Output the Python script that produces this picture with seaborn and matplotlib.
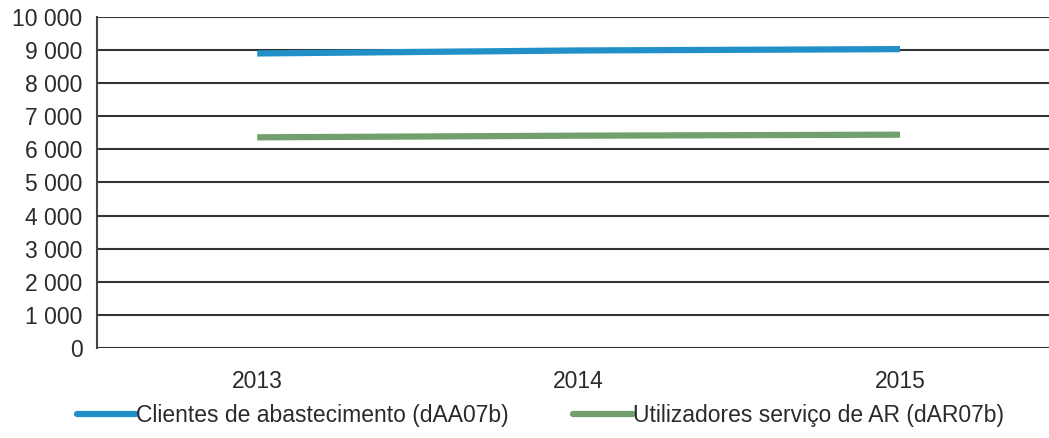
import matplotlib
matplotlib.use("Agg")
import matplotlib.pyplot as plt
import matplotlib.ticker as mticker
import seaborn as sns
import pandas as pd

years = ["2013", "2014", "2015"]
clientes = [8890, 8980, 9020]
utilizadores = [6360, 6410, 6440]
series_names = ["Clientes de abastecimento (dAA07b)", "Utilizadores serviço de AR (dAR07b)"]
series_colors = ["#2190c8", "#72a06c"]

df = pd.DataFrame({
    "ano": years * 2,
    "valor": clientes + utilizadores,
    "serie": [series_names[0]] * 3 + [series_names[1]] * 3,
})
df["pos"] = [0, 1, 2] * 2

sns.set_theme(style="white")
plt.rcParams["font.family"] = ["Liberation Sans", "DejaVu Sans"]

fig = plt.figure(figsize=(10.49, 4.38), dpi=100)
ax = fig.add_axes([0.092, 0.205, 0.91, 0.757])

sns.lineplot(data=df, x="pos", y="valor", hue="serie", palette=series_colors,
             linewidth=4.5, ax=ax, legend=True)
for line in ax.get_lines():
    line.set_solid_capstyle("butt")

ax.set_xlim(-0.5, 2.47)
ax.set_ylim(0, 10000)
ax.set_yticks(range(0, 10001, 1000))
ax.yaxis.set_major_formatter(mticker.FuncFormatter(lambda v, p: f"{int(v):,}".replace(",", " ")))
ax.set_xticks([0, 1, 2])
ax.set_xticklabels(years)
ax.set_xticks([-0.5, 0.5, 1.5], minor=True)
ax.tick_params(axis="x", which="major", length=0, pad=16, labelsize=16.5, labelcolor="#2a2a2a")
ax.tick_params(axis="x", which="minor", length=6, width=1.2, color="#444444", direction="out")
ax.tick_params(axis="y", length=6, width=1.2, color="#444444", direction="out", labelsize=16.5,
               labelcolor="#2a2a2a", pad=4)
ax.yaxis.grid(True, color="#333333", linewidth=1.5)
ax.set_axisbelow(True)
for s in ["top", "right", "bottom"]:
    ax.spines[s].set_visible(False)
ax.spines["left"].set_color("#444444")
ax.spines["left"].set_linewidth(1.5)
ax.set_xlabel("")
ax.set_ylabel("")

handles, labels = ax.get_legend_handles_labels()
for h in handles:
    h.set_solid_capstyle("round")
ax.legend(handles, labels, loc="lower center", bbox_to_anchor=(0.465, -0.30), ncol=2,
          frameon=False, fontsize=16.5, handlelength=2.6, handletextpad=0.0,
          columnspacing=2.8, labelcolor="#2a2a2a")

fig.savefig("out.png", dpi=100)
